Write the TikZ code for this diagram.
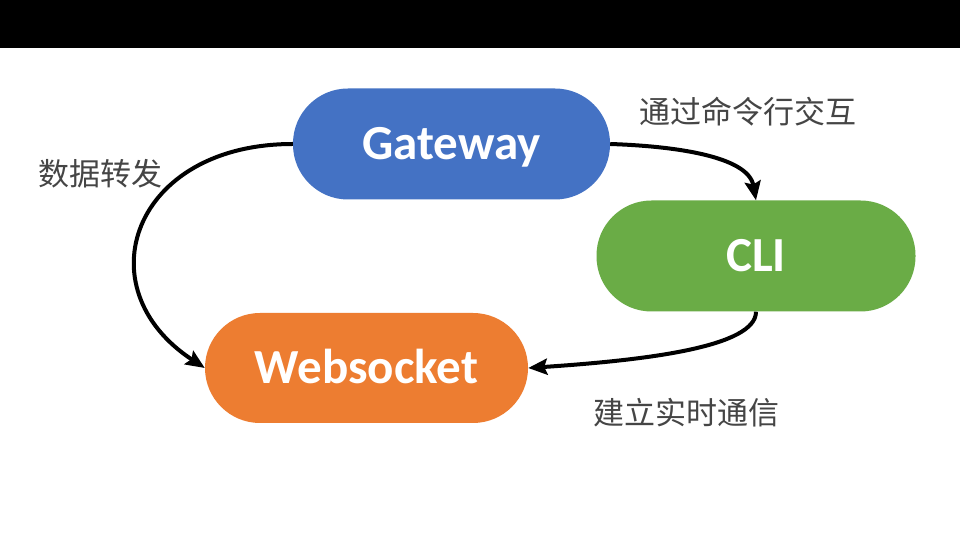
\documentclass[tikz,border=0pt]{standalone}
\usepackage{fontspec}
\setmainfont{Carlito}
\newfontfamily\cjkfont{Noto Sans CJK SC}
\usetikzlibrary{arrows.meta}
\definecolor{gwblue}{HTML}{4472C4}
\definecolor{cligreen}{HTML}{6AAC46}
\definecolor{wsorange}{HTML}{ED7D31}
\definecolor{labelgray}{HTML}{454545}
\tikzset{
  pill/.style={rectangle, rounded corners=55pt, minimum height=111pt, inner sep=0pt,
    text height=31pt, text depth=0pt,
    text=white, font=\fontsize{49}{52}\selectfont\bfseries},
  flow/.style={line width=4pt, -{Stealth[length=19pt,width=16pt,inset=3pt]}},
  note/.style={text=labelgray, font=\cjkfont\fontsize{31}{34}\selectfont, inner sep=0pt}
}
\begin{document}
\begin{tikzpicture}[x=1pt,y=1pt]
\useasboundingbox (0,0) rectangle (960,540);
\fill[white] (0,0) rectangle (960,540);
\fill[black] (0,492) rectangle (960,540);

\node[pill, fill=gwblue, minimum width=317pt] (gw) at (451.5,396) {Gateway};
\node[pill, fill=cligreen, minimum width=319pt] (cli) at (756,284) {CLI};
\node[pill, fill=wsorange, minimum width=323pt, minimum height=110pt] (ws) at (366.5,172) {Websocket};

\draw[flow] (gw.west) .. controls +(-160,0) and +(-122,80) .. (ws.west);
\draw[flow] (gw.east) .. controls +(60,-2) and +(-8,45) .. (cli.north);
\draw[flow] (cli.south) .. controls +(0,-35) and +(120,8) .. (ws.east);

\node[note] (l1) at (100,366) {数据转发};
\node[note] (l2) at (748,428) {通过命令行交互};
\node[note] (l3) at (686,127) {建立实时通信};
\end{tikzpicture}
\end{document}
